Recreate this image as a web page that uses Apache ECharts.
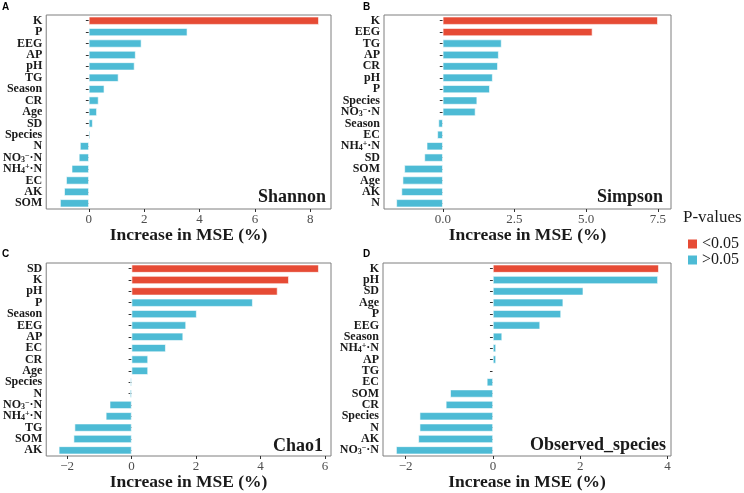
<!DOCTYPE html>
<html><head><meta charset="utf-8">
<script src="https://cdn.jsdelivr.net/npm/echarts@6/dist/echarts.min.js"></script>
<style>html,body{margin:0;padding:0;background:#fff}#c{width:744px;height:493px}</style>
</head><body><div id="c"></div>
<script>
// Panel A: Shannon
const catsA = ['K','P','EEG','AP','pH','TG','Season','CR','Age','SD','Species','N','NO3','NH4','EC','AK','SOM'];
const valsA = [8.31,3.56,1.90,1.69,1.65,1.07,0.56,0.35,0.29,0.14,0.05,-0.32,-0.36,-0.62,-0.82,-0.89,-1.04];
const sigA  = [1,0,0,0,0,0,0,0,0,0,0,0,0,0,0,0,0];
const ticksA = [0,2,4,6,8];
// Panel B: Simpson
const catsB = ['K','EEG','TG','AP','CR','pH','P','Species','NO3','Season','EC','NH4','SD','SOM','Age','AK','N'];
const valsB = [7.50,5.22,2.05,1.95,1.92,1.74,1.64,1.20,1.14,-0.15,-0.19,-0.56,-0.64,-1.34,-1.40,-1.44,-1.62];
const sigB  = [1,1,0,0,0,0,0,0,0,0,0,0,0,0,0,0,0];
const ticksB = [0,2.5,5,7.5];
// Panel C: Chao1
const catsC = ['SD','K','pH','P','Season','EEG','AP','EC','CR','Age','Species','N','NO3','NH4','TG','SOM','AK'];
const valsC = [5.81,4.88,4.53,3.76,2.02,1.69,1.60,1.06,0.51,0.51,-0.04,-0.05,-0.68,-0.80,-1.77,-1.80,-2.26];
const sigC  = [1,1,1,0,0,0,0,0,0,0,0,0,0,0,0,0,0];
const ticksC = [-2,0,2,4,6];
// Panel D: Observed_species
const catsD = ['K','pH','SD','Age','P','EEG','Season','NH4','AP','TG','EC','SOM','CR','Species','N','AK','NO3'];
const valsD = [3.80,3.78,2.07,1.61,1.56,1.08,0.21,0.07,0.07,0.005,-0.14,-0.98,-1.08,-1.68,-1.68,-1.71,-2.22];
const sigD  = [1,0,0,0,0,0,0,0,0,0,0,0,0,0,0,0,0];
const ticksD = [-2,0,2,4];

const panelNames = ['Shannon','Simpson','Chao1','Observed_species'];
const panelLetters = ['A','B','C','D'];
const legendNames = ['<0.05','>0.05'];
const xTitle = 'Increase in MSE (%)';

const RED = '#E64B35', BLUE = '#4DBBD5';
const SERIF = '"Liberation Serif","Times New Roman",serif';

const panels = [
  {cats: catsA, vals: valsA, sig: sigA, ticks: ticksA, min: -1.54, max: 8.75, grid: {left: 43, top: 15, width: 288, height: 194}, fmt: v => String(v)},
  {cats: catsB, vals: valsB, sig: sigB, ticks: ticksB, min: -2.05, max: 7.96, grid: {left: 384, top: 15, width: 287, height: 194}, fmt: v => v.toFixed(1)},
  {cats: catsC, vals: valsC, sig: sigC, ticks: ticksC, min: -2.65, max: 6.19, grid: {left: 44, top: 263, width: 287, height: 193}, fmt: v => String(v).replace('-', '\u2212')},
  {cats: catsD, vals: valsD, sig: sigD, ticks: ticksD, min: -2.52, max: 4.08, grid: {left: 383, top: 263, width: 288, height: 193}, fmt: v => String(v).replace('-', '\u2212')}
];

function catLabel(c) {
  if (c === 'NO3') return 'NO{sub|3}{sup|\u2212}\u00b7N';
  if (c === 'NH4') return 'NH{sub|4}{sup|+}\u00b7N';
  return c;
}

const grids = [], xAxes = [], yAxes = [], series = [], graphics = [];
panels.forEach((p, i) => {
  grids.push(Object.assign({show: true, borderColor: '#7f7f7f', borderWidth: 1, backgroundColor: '#fff'}, p.grid));
  xAxes.push({
    type: 'value', gridIndex: i, min: p.min, max: p.max,
    splitLine: {show: false}, axisLine: {show: false},
    axisTick: {show: true, length: 3, lineStyle: {color: '#333'}, customValues: p.ticks},
    axisLabel: {customValues: p.ticks, formatter: p.fmt, fontFamily: SERIF, fontSize: 13, color: '#4d4d4d', margin: 4},
    name: xTitle, nameLocation: 'middle', nameGap: 14,
    nameTextStyle: {fontFamily: SERIF, fontWeight: 'bold', fontSize: 17.5, color: '#1a1a1a'}
  });
  yAxes.push({
    type: 'category', gridIndex: i, data: p.cats, inverse: true,
    axisLine: {show: false},
    axisTick: {show: true, length: 3, alignWithLabel: true, interval: 0, lineStyle: {color: '#333'}},
    axisLabel: {
      interval: 0, hideOverlap: false,
      formatter: catLabel, margin: 4, fontFamily: SERIF, fontWeight: 'bold', fontSize: 12, color: '#1a1a1a',
      rich: {
        sub: {fontFamily: SERIF, fontWeight: 'bold', fontSize: 8, verticalAlign: 'bottom', color: '#1a1a1a'},
        sup: {fontFamily: SERIF, fontWeight: 'bold', fontSize: 8, verticalAlign: 'top', color: '#1a1a1a'}
      }
    }
  });
  legendNames.forEach((nm, k) => {
    series.push({
      type: 'bar', name: nm, xAxisIndex: i, yAxisIndex: i, stack: 'p' + i,
      barWidth: '70%',
      itemStyle: {color: k === 0 ? RED : BLUE, borderColor: '#fff', borderWidth: 0.6},
      data: p.vals.map((v, j) => ((p.sig[j] === 1) === (k === 0)) ? v : '-')
    });
  });
});

const nameSpots = [[326, 206], [663, 206], [323, 455], [666, 454]];
panelNames.forEach((nm, i) => {
  graphics.push({type: 'text', x: nameSpots[i][0], y: nameSpots[i][1],
    style: {text: nm, align: 'right', verticalAlign: 'bottom', font: 'bold 18px ' + SERIF, fill: '#1a1a1a'}});
});
const letterSpots = [[2, 7], [363, 7], [2, 254], [363, 254]];
panelLetters.forEach((l, i) => {
  graphics.push({type: 'text', x: letterSpots[i][0], y: letterSpots[i][1],
    style: {text: l, align: 'left', verticalAlign: 'middle', font: 'bold 10px "Liberation Sans",Arial,sans-serif', fill: '#000'}});
});
graphics.push({type: 'text', x: 683, y: 218,
  style: {text: 'P-values', align: 'left', verticalAlign: 'middle', font: '17px ' + SERIF, fill: '#1a1a1a'}});

const chart = echarts.init(document.getElementById('c'), null, {renderer: 'canvas'});
chart.setOption({
  animation: false,
  backgroundColor: '#fff',
  grid: grids, xAxis: xAxes, yAxis: yAxes, series: series,
  legend: {
    data: legendNames, orient: 'vertical', left: 683, top: 231,
    itemWidth: 9, itemHeight: 9, itemGap: 0, icon: 'rect',
    itemStyle: {borderWidth: 0},
    textStyle: {fontFamily: SERIF, fontSize: 16, lineHeight: 14, color: '#1a1a1a', padding: [0, 0, 0, 0]}
  },
  graphic: graphics
});
</script>
</body></html>
